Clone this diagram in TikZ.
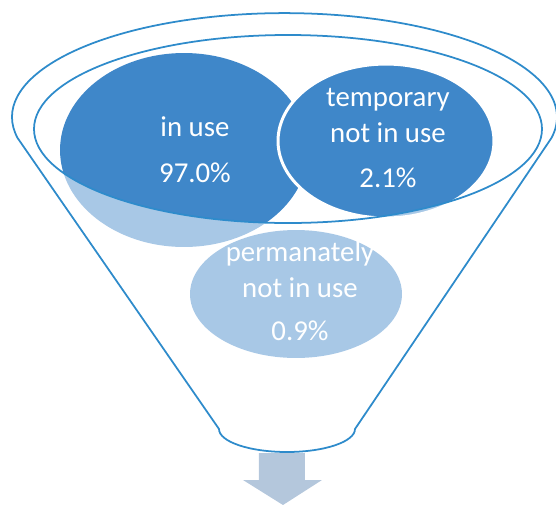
\documentclass[tikz,border=0pt]{standalone}
\usepackage{fontspec}
\setmainfont{Carlito}
\usetikzlibrary{shapes.geometric}
\usetikzlibrary{positioning}
\definecolor{bubble}{HTML}{3F87C9}
\definecolor{rim}{HTML}{2E8BCB}
\definecolor{outflow}{HTML}{B4C7DC}

\begin{document}
\begin{tikzpicture}[x=0.02cm, y=-0.02cm,
        bubble/.style={ellipse, fill=bubble, inner sep=0pt},
        lbl/.style={text=white, align=center, font=\fontsize{16.4}{20.4}\selectfont},
        rim/.style={draw=rim, line width=1pt}]
            \useasboundingbox (0,0) rectangle (556,505);

            % arrow out of the funnel
            \fill[outflow] (259,453) -- (305,453) -- (305,480) -- (322,480)
                -- (283,505) -- (243,480) -- (259,480) -- cycle;

            \node[bubble, minimum width=4.96cm, minimum height=3.88cm] (inuse) at (184,150) {};
            \node[bubble, draw=white, line width=1.7pt, minimum width=4.32cm, minimum height=3.08cm] (temp) at (386,141) {};
            \node[bubble, minimum width=4.24cm, minimum height=2.56cm] (perm) at (296,294) {};

            \node[lbl] (inuseTxt) at (195,150) {in use\\[5.6pt]97.0\%};
            \node[lbl] (tempTxt) at (388,138) {temporary\\not in use\\[5.6pt]2.1\%};
            \node[lbl] (permTxt) at (300,291) {permanately\\not in use\\[4pt]0.9\%};

            % funnel body
            \fill[white, fill opacity=0.55, even odd rule]
                (17.6,138) arc[start angle=168.4, end angle=371.6, x radius=272.5, y radius=104]
                -- (355,429) arc[start angle=0, end angle=180, x radius=68, y radius=23]
                -- cycle
                (288,129) ellipse[x radius=254, y radius=94];
            \draw[rim]
                (17.6,138) arc[start angle=168.4, end angle=371.6, x radius=272.5, y radius=104]
                -- (355,429) arc[start angle=0, end angle=180, x radius=68, y radius=23]
                -- cycle;
            \draw[rim] (288,129) ellipse[x radius=254, y radius=94];
        \end{tikzpicture}
\end{document}
